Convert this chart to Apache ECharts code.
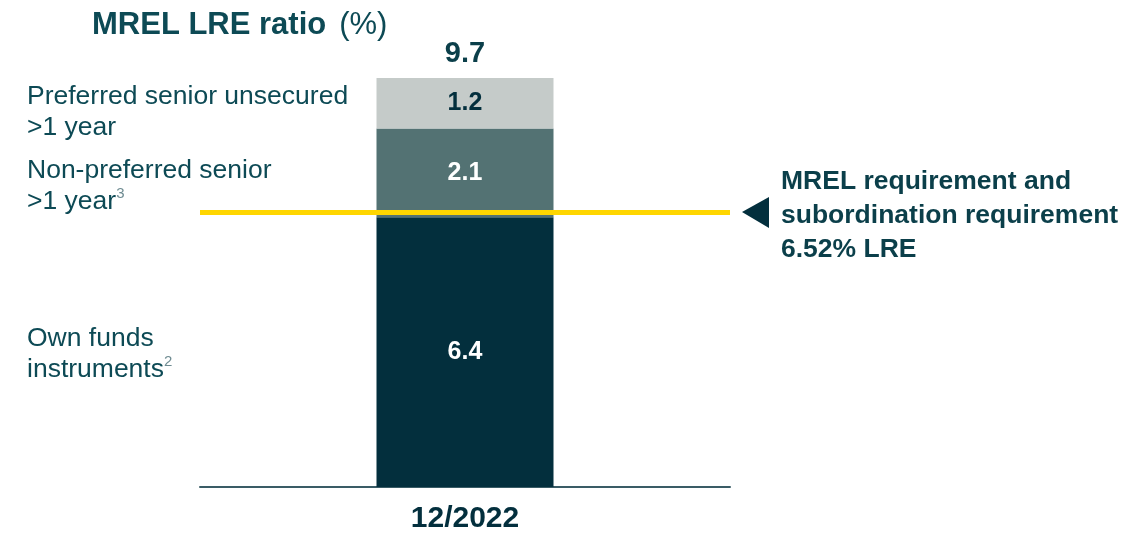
<!DOCTYPE html>
<html>
<head>
<meta charset="utf-8">
<script src="https://cdn.jsdelivr.net/npm/echarts@6/dist/echarts.min.js"></script>
<style>
  html, body { margin: 0; padding: 0; background: #fff; }
  #chart { width: 1148px; height: 537px; }
</style>
</head>
<body>
<div id="chart"></div>
<script>
// MREL LRE ratio by instrument layer (%)
const categories = ['12/2022'];
const ownFunds = [6.4];
const nonPreferredSenior = [2.1];
const preferredSenior = [1.2];
const requirement = 6.52;

const FONT = '"Liberation Sans", Arial, sans-serif';
const TEAL = '#0D4A55';
const INK = '#0B3F4A';
const DARK = '#032F3D';
const MID = '#537273';
const LIGHT = '#C5CBC9';

const totals = categories.map((c, i) =>
  +(ownFunds[i] + nonPreferredSenior[i] + preferredSenior[i]).toFixed(1));

const chart = echarts.init(document.getElementById('chart'), null, { renderer: 'canvas' });

const segLabel = (color) => ({
  show: true,
  position: 'inside',
  color: color,
  fontFamily: FONT,
  fontWeight: 'bold',
  fontSize: 25,
  formatter: (p) => p.value.toFixed(1)
});

const sideText = {
  fontFamily: FONT, fontSize: 26.5, fill: TEAL, lineHeight: 31,
  rich: {
    t: { fontFamily: FONT, fontSize: 26.5, fill: TEAL, lineHeight: 31 },
    sup: { fontFamily: FONT, fontSize: 15, fill: '#6F8C92', lineHeight: 13, verticalAlign: 'top' }
  }
};

chart.setOption({
  animation: false,
  backgroundColor: '#ffffff',
  grid: { left: 200, right: 418, top: 78, bottom: 50 },
  xAxis: {
    type: 'category',
    data: categories,
    axisLine: { lineStyle: { color: '#3A5C66', width: 2 } },
    axisTick: { show: false },
    axisLabel: {
      margin: 17, color: DARK, fontFamily: FONT, fontWeight: 'bold', fontSize: 30
    }
  },
  yAxis: {
    type: 'value', min: 0, max: totals[0],
    show: false, splitLine: { show: false }
  },
  series: [
    {
      name: 'Own funds instruments', type: 'bar', stack: 'mrel',
      data: ownFunds, barWidth: 177,
      itemStyle: { color: DARK },
      label: segLabel('#ffffff'),
      markLine: {
        silent: true, symbol: 'none',
        lineStyle: { color: '#FFD600', width: 5, type: 'solid' },
        label: { show: false },
        data: [{ yAxis: requirement }],
        z: 10
      }
    },
    {
      name: 'Non-preferred senior >1 year', type: 'bar', stack: 'mrel',
      data: nonPreferredSenior, barWidth: 177,
      itemStyle: { color: MID },
      label: segLabel('#ffffff')
    },
    {
      name: 'Preferred senior unsecured >1 year', type: 'bar', stack: 'mrel',
      data: preferredSenior, barWidth: 177,
      itemStyle: { color: LIGHT },
      label: segLabel(DARK)
    },
    {
      name: 'Total', type: 'scatter',
      data: totals, symbolSize: 0,
      itemStyle: { opacity: 1 },
      label: {
        show: true, position: 'top', distance: 10,
        color: INK, fontFamily: FONT, fontWeight: 'bold', fontSize: 29,
        formatter: (p) => p.value.toFixed(1)
      }
    }
  ],
  graphic: [
    {
      type: 'text', left: 92, top: 10,
      style: {
        text: '{b|MREL LRE ratio}{r|(%)}',
        rich: {
          b: { fontFamily: FONT, fontSize: 31, fontWeight: 'bold', fill: TEAL },
          r: { fontFamily: FONT, fontSize: 31, fill: TEAL, padding: [0, 0, 0, 13] }
        }
      }
    },
    {
      type: 'text', left: 27, top: 81,
      style: Object.assign({}, sideText, { text: '{t|Preferred senior unsecured}\n{t|>1 year}' })
    },
    {
      type: 'text', left: 27, top: 155,
      style: Object.assign({}, sideText, { text: '{t|Non-preferred senior}\n{t|>1 year}{sup|3}' })
    },
    {
      type: 'text', left: 27, top: 323,
      style: Object.assign({}, sideText, { text: '{t|Own funds}\n{t|instruments}{sup|2}' })
    },
    {
      type: 'polygon',
      shape: { points: [[742, 212], [769, 197], [769, 228]] },
      style: { fill: DARK }
    },
    {
      type: 'text', left: 781, top: 165,
      style: {
        text: 'MREL requirement and\nsubordination requirement\n6.52% LRE',
        fontFamily: FONT, fontSize: 26.5, fontWeight: 'bold', fill: INK, lineHeight: 34
      }
    }
  ]
});
</script>
</body>
</html>
